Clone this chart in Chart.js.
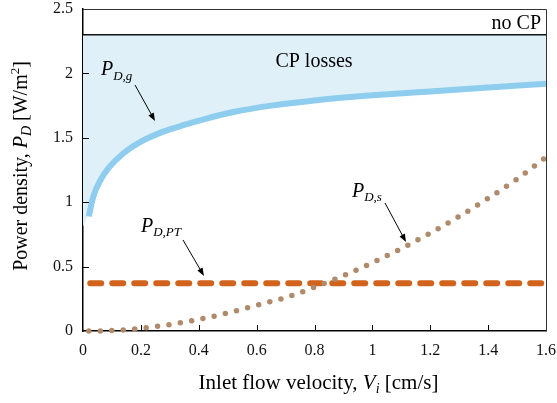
<!DOCTYPE html>
<html>
<head>
<meta charset="utf-8">
<script src="https://cdn.jsdelivr.net/npm/chart.js@4"></script>
<style>
  html, body { margin: 0; padding: 0; background: #ffffff; }
  #wrap { width: 557px; height: 403px; }
</style>
</head>
<body>
<div id="wrap"><canvas id="chart" width="557" height="403"></canvas></div>
<script>
// gas-side power density P_D,g
const gasVelocity = [0.02, 0.035, 0.06, 0.09, 0.14, 0.2, 0.28, 0.35, 0.42, 0.52, 0.65, 0.8, 1.0, 1.2, 1.4, 1.6];
const gasPower = [0.89, 1.04, 1.17, 1.27, 1.38, 1.47, 1.55, 1.60, 1.645, 1.70, 1.75, 1.79, 1.83, 1.86, 1.89, 1.92];

// solid-side power density P_D,s
const solidVelocity = [0.02, 0.1, 0.2, 0.3, 0.4, 0.5, 0.6, 0.7, 0.8, 0.9, 1.0, 1.1, 1.2, 1.3, 1.4, 1.5, 1.6];
const solidPower = [0, 0.003, 0.02, 0.05, 0.09, 0.14, 0.20, 0.26, 0.34, 0.43, 0.53, 0.64, 0.76, 0.89, 1.03, 1.18, 1.35];

// P_D,PT (constant)
const ptVelocity = [0.025, 1.6];
const ptPower = [0.37, 0.37];

// no CP level
const noCpVelocity = [0, 1.6];
const noCpPower = [2.3, 2.3];

// left edge of the CP-losses band
const bandVelocity = [0, 0.02];
const bandPower = [0.81, 0.89];

const xTicks = [0, 0.2, 0.4, 0.6, 0.8, 1, 1.2, 1.4, 1.6];
const yTicks = [0, 0.5, 1, 1.5, 2, 2.5];

const pts = (xs, ys) => xs.map((x, i) => ({ x: x, y: ys[i] }));

const SERIF = '"Liberation Serif", "DejaVu Serif", serif';

function drawRich(ctx, parts, x, y, align) {
    let total = 0;
    parts.forEach(p => {
        ctx.font = (p.italic ? 'italic ' : '') + p.size + 'px ' + SERIF;
        p.w = ctx.measureText(p.t).width;
        total += p.w;
    });
    let cx = align === 'center' ? x - total / 2 : (align === 'right' ? x - total : x);
    ctx.textAlign = 'left';
    ctx.textBaseline = 'alphabetic';
    parts.forEach(p => {
        ctx.font = (p.italic ? 'italic ' : '') + p.size + 'px ' + SERIF;
        ctx.fillText(p.t, cx, y + (p.dy || 0));
        cx += p.w;
    });
}

function arrow(ctx, x1, y1, x2, y2) {
    const a = Math.atan2(y2 - y1, x2 - x1);
    ctx.beginPath();
    ctx.moveTo(x1, y1);
    ctx.lineTo(x2 - 6 * Math.cos(a), y2 - 6 * Math.sin(a));
    ctx.strokeStyle = '#000';
    ctx.lineWidth = 1;
    ctx.stroke();
    ctx.beginPath();
    ctx.moveTo(x2, y2);
    ctx.lineTo(x2 - 8 * Math.cos(a) + 3 * Math.sin(a), y2 - 8 * Math.sin(a) - 3 * Math.cos(a));
    ctx.lineTo(x2 - 8 * Math.cos(a) - 3 * Math.sin(a), y2 - 8 * Math.sin(a) + 3 * Math.cos(a));
    ctx.closePath();
    ctx.fillStyle = '#000';
    ctx.fill();
}

const decorations = {
    id: 'decorations',
    afterDraw(chart) {
        const ctx = chart.ctx;
        const xs = chart.scales.x, ys = chart.scales.y;
        const left = xs.left, right = xs.right, top = ys.top, bottom = ys.bottom;
        ctx.save();

        // frame top/right
        ctx.strokeStyle = '#333';
        ctx.lineWidth = 1;
        ctx.beginPath();
        ctx.moveTo(left, top + 0.5);
        ctx.lineTo(right + 0.5, top + 0.5);
        ctx.lineTo(right + 0.5, bottom);
        ctx.stroke();

        // inward ticks
        ctx.strokeStyle = '#000';
        ctx.beginPath();
        xTicks.slice(1, -1).forEach(v => {
            const px = Math.round(xs.getPixelForValue(v)) + 0.5;
            ctx.moveTo(px, bottom);
            ctx.lineTo(px, bottom - 6);
        });
        yTicks.slice(1, -1).forEach(v => {
            const py = Math.round(ys.getPixelForValue(v)) + 0.5;
            ctx.moveTo(left, py);
            ctx.lineTo(left + 6, py);
        });
        ctx.stroke();

        ctx.fillStyle = '#000';
        // axis titles
        drawRich(ctx, [
            { t: 'Inlet flow velocity, ', size: 21 },
            { t: 'V', size: 21, italic: true },
            { t: 'i', size: 14, italic: true, dy: 4 },
            { t: ' [cm/s]', size: 21 }
        ], (left + right) / 2 + 4, 389, 'center');

        ctx.save();
        ctx.translate(27, 166);
        ctx.rotate(-Math.PI / 2);
        drawRich(ctx, [
            { t: 'Power density, ', size: 20 },
            { t: 'P', size: 20, italic: true },
            { t: 'D', size: 14, italic: true, dy: 4 },
            { t: ' [W/m', size: 20 },
            { t: '2', size: 13, dy: -8 },
            { t: ']', size: 20 }
        ], 0, 0, 'center');
        ctx.restore();

        // region labels
        drawRich(ctx, [{ t: 'no CP', size: 20 }], right - 5, 29, 'right');
        drawRich(ctx, [{ t: 'CP losses', size: 20 }], 314, 67, 'center');

        // series labels
        drawRich(ctx, [
            { t: 'P', size: 20, italic: true },
            { t: 'D,g', size: 13, italic: true, dy: 5 }
        ], 101, 75, 'left');
        arrow(ctx, 135, 85, 155, 121);

        drawRich(ctx, [
            { t: 'P', size: 20, italic: true },
            { t: 'D,PT', size: 13, italic: true, dy: 4 }
        ], 141, 232, 'left');
        arrow(ctx, 183, 240, 204, 276);

        drawRich(ctx, [
            { t: 'P', size: 20, italic: true },
            { t: 'D,s', size: 13, italic: true, dy: 4 }
        ], 352, 197, 'left');
        arrow(ctx, 385, 203, 406, 242);

        ctx.restore();
    }
};

new Chart(document.getElementById('chart'), {
    type: 'line',
    data: {
        datasets: [
            {
                // CP losses band
                data: pts(bandVelocity, bandPower).concat(pts(gasVelocity, gasPower)),
                borderWidth: 0,
                pointRadius: 0,
                cubicInterpolationMode: 'monotone',
                backgroundColor: '#dff0f9',
                fill: { value: 2.3 },
                order: 5
            },
            {
                data: pts(noCpVelocity, noCpPower),
                borderColor: '#111',
                borderWidth: 1.5,
                pointRadius: 0,
                fill: false,
                order: 4
            },
            {
                data: pts(gasVelocity, gasPower),
                borderColor: '#8ecdee',
                borderWidth: 6,
                pointRadius: 0,
                cubicInterpolationMode: 'monotone',
                fill: false,
                order: 3
            },
            {
                data: pts(ptVelocity, ptPower),
                borderColor: '#d1631d',
                borderWidth: 6,
                borderDash: [11, 11],
                borderCapStyle: 'round',
                pointRadius: 0,
                fill: false,
                order: 2
            },
            {
                data: pts(solidVelocity, solidPower),
                borderColor: '#b08b6b',
                borderWidth: 5.5,
                borderDash: [0, 11.5],
                borderCapStyle: 'round',
                pointRadius: 0,
                cubicInterpolationMode: 'monotone',
                fill: false,
                order: 1
            }
        ]
    },
    options: {
        responsive: false,
        animation: false,
        clip: false,
        layout: { padding: { top: 9, right: 11, left: 0, bottom: 0 } },
        plugins: {
            legend: { display: false },
            tooltip: { enabled: false }
        },
        scales: {
            x: {
                type: 'linear',
                min: 0,
                max: 1.6,
                afterBuildTicks: s => { s.ticks = xTicks.map(v => ({ value: v })); },
                afterFit: s => { s.height = 72; s.paddingLeft = 0; s.paddingRight = 0; },
                grid: { display: false, drawTicks: false },
                border: { display: true, color: '#000', width: 1.5 },
                ticks: {
                    color: '#111',
                    padding: 10,
                    maxRotation: 0,
                    font: { family: SERIF, size: 16 },
                    callback: v => String(v)
                }
            },
            y: {
                type: 'linear',
                min: 0,
                max: 2.5,
                afterBuildTicks: s => { s.ticks = yTicks.map(v => ({ value: v })); },
                afterFit: s => { s.width = 83; s.paddingTop = 0; s.paddingBottom = 0; },
                grid: { display: false, drawTicks: false },
                border: { display: true, color: '#000', width: 1.5 },
                ticks: {
                    color: '#111',
                    padding: 10,
                    font: { family: SERIF, size: 16 },
                    callback: v => String(v)
                }
            }
        }
    },
    plugins: [decorations]
});
</script>
</body>
</html>
